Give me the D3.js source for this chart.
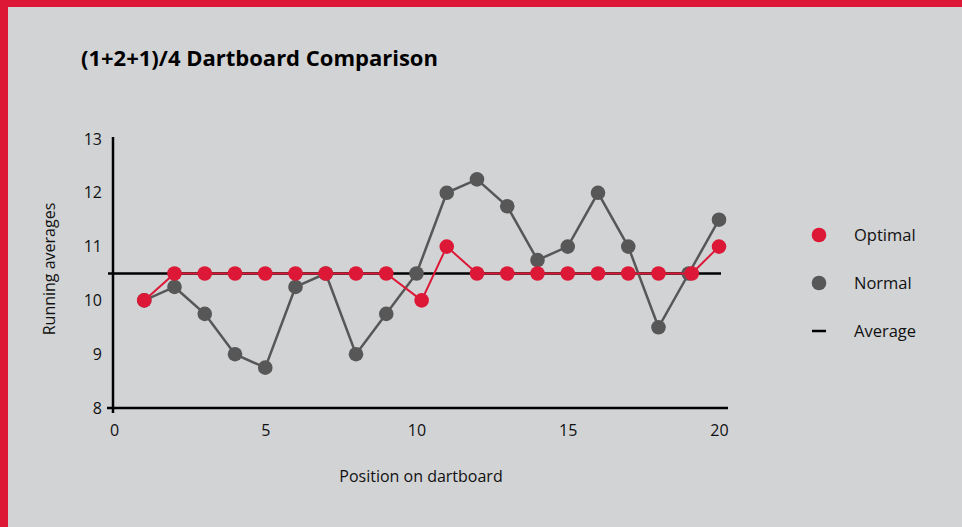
<!DOCTYPE html>
<html>
<head>
<meta charset="utf-8">
<script src="https://cdn.jsdelivr.net/npm/d3@7"></script>
<style>
  html, body { margin: 0; padding: 0; background: #d2d3d5; }
  svg { display: block; font-family: "Open Sans", "Noto Sans", sans-serif; }
  .title { font-weight: bold; font-size: 22px; fill: #000; }
  .tick text { font-size: 16px; fill: #111; font-family: "Open Sans", sans-serif; }
  .label { font-size: 16px; fill: #111; }
  .legend text { font-size: 16.5px; fill: #111; }
</style>
</head>
<body>
<svg width="962" height="527"></svg>
<script>
// dartboard positions
const positions = [1, 2, 3, 4, 5, 6, 7, 8, 9, 10, 11, 12, 13, 14, 15, 16, 17, 18, 19, 20];
// the optimal markers sit slightly off the integer positions at 10 and 19
const optimalPositions = [1, 2, 3, 4, 5, 6, 7, 8, 9, 10.17, 11, 12, 13, 14, 15, 16, 17, 18, 19.1, 20];
const optimal = [10, 10.5, 10.5, 10.5, 10.5, 10.5, 10.5, 10.5, 10.5, 10, 11, 10.5, 10.5, 10.5, 10.5, 10.5, 10.5, 10.5, 10.5, 11];
const normal = [10, 10.25, 9.75, 9, 8.75, 10.25, 10.5, 9, 9.75, 10.5, 12, 12.25, 11.75, 10.75, 11, 12, 11, 9.5, 10.5, 11.5];
const average = 10.5;
const xTicks = [0, 5, 10, 15, 20];
const yTicks = [8, 9, 10, 11, 12, 13];
const legendItems = ['Optimal', 'Normal', 'Average'];

const red = '#dc1836';
const grey = '#575757';

const svg = d3.select('svg');

// red frame top and left
svg.append('rect').attr('x', 0).attr('y', 0).attr('width', 962).attr('height', 7).attr('fill', red);
svg.append('rect').attr('x', 0).attr('y', 0).attr('width', 8).attr('height', 527).attr('fill', red);

svg.append('text')
  .attr('class', 'title')
  .attr('x', 81)
  .attr('y', 66)
  .text('(1+2+1)/4 Dartboard Comparison');

const x = d3.scaleLinear().domain([0, 20]).range([114, 719]);
const y = d3.scaleLinear().domain([8, 13]).range([408, 139]);

// axes
svg.append('g')
  .attr('transform', `translate(${x(0)}, 0)`)
  .call(d3.axisLeft(y).tickValues(yTicks).tickFormat(d3.format('d')).tickSize(0).tickPadding(12))
  .call(g => g.select('.domain').remove());

svg.append('g')
  .attr('transform', `translate(0, ${y(8)})`)
  .call(d3.axisBottom(x).tickValues(xTicks).tickFormat(d3.format('d')).tickSize(0).tickPadding(17))
  .call(g => g.select('.domain').remove());

svg.append('line')
  .attr('x1', x(0) - 1).attr('x2', x(0) - 1)
  .attr('y1', y(13) - 2).attr('y2', y(8) + 5)
  .attr('stroke', '#000').attr('stroke-width', 2.5);

svg.append('line')
  .attr('x1', x(0) - 7).attr('x2', x(20) + 9)
  .attr('y1', y(8)).attr('y2', y(8))
  .attr('stroke', '#000').attr('stroke-width', 2.5);

// average
svg.append('line')
  .attr('x1', x(0) - 6).attr('x2', x(20) + 2)
  .attr('y1', y(average)).attr('y2', y(average))
  .attr('stroke', '#000').attr('stroke-width', 2.5);

// normal series
const normalLine = d3.line()
  .x((d, i) => x(positions[i]))
  .y(d => y(d));

svg.append('path')
  .datum(normal)
  .attr('d', normalLine)
  .attr('fill', 'none')
  .attr('stroke', grey)
  .attr('stroke-width', 2.5);

svg.append('g')
  .selectAll('circle')
  .data(normal)
  .enter()
  .append('circle')
  .attr('cx', (d, i) => x(positions[i]))
  .attr('cy', d => y(d))
  .attr('r', 7.3)
  .attr('fill', grey);

// optimal series
const optimalLine = d3.line()
  .x((d, i) => x(optimalPositions[i]))
  .y(d => y(d));

svg.append('path')
  .datum(optimal)
  .attr('d', optimalLine)
  .attr('fill', 'none')
  .attr('stroke', red)
  .attr('stroke-width', 2);

svg.append('g')
  .selectAll('circle')
  .data(optimal)
  .enter()
  .append('circle')
  .attr('cx', (d, i) => x(optimalPositions[i]))
  .attr('cy', d => y(d))
  .attr('r', 7.3)
  .attr('fill', red);

// axis titles
svg.append('text')
  .attr('class', 'label')
  .attr('transform', 'translate(55, 269) rotate(-90)')
  .attr('text-anchor', 'middle')
  .text('Running averages');

svg.append('text')
  .attr('class', 'label')
  .attr('x', 421)
  .attr('y', 482)
  .attr('text-anchor', 'middle')
  .text('Position on dartboard');

// legend
const legend = svg.append('g').attr('class', 'legend');
const legendY = [235, 283, 331];
legendItems.forEach((name, i) => {
  const g = legend.append('g').attr('transform', `translate(819, ${legendY[i]})`);
  if (i < 2) {
    g.append('circle').attr('r', 7.3).attr('fill', i === 0 ? red : grey);
  } else {
    g.append('line').attr('x1', -7).attr('x2', 7).attr('stroke', '#000').attr('stroke-width', 2.5);
  }
  g.append('text').attr('x', 35).attr('dy', '0.35em').text(name);
});
</script>
</body>
</html>
